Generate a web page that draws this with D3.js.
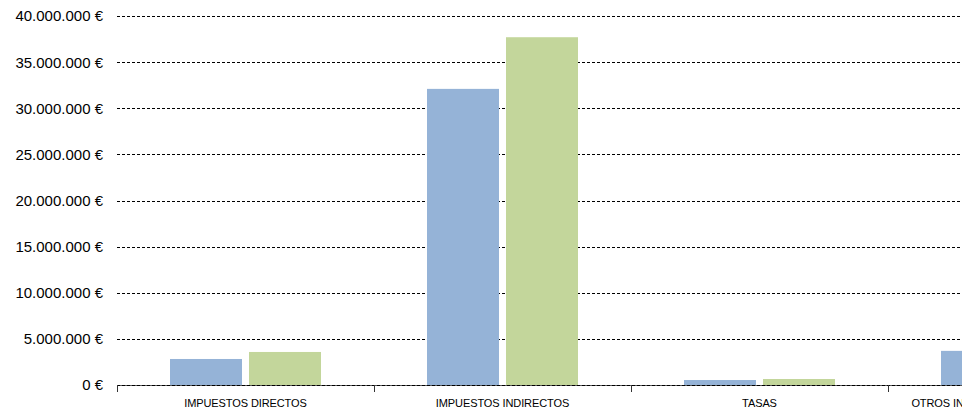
<!DOCTYPE html>
<html>
<head>
<meta charset="utf-8">
<script src="https://cdn.jsdelivr.net/npm/d3@7"></script>
<style>
  html, body { margin: 0; padding: 0; background: #fff; overflow: hidden; }
  svg { display: block; font-family: "Liberation Sans", Arial, sans-serif; }
</style>
</head>
<body>
<svg id="chart" width="962" height="413"></svg>
<script>
const categories = ["IMPUESTOS DIRECTOS", "IMPUESTOS INDIRECTOS", "TASAS", "OTROS INGRESOS Y TRANSFERENCIAS"];
const seriesNames = ["Serie 1", "Serie 2"];
const series1 = [2820000, 32100000, 540000, 3700000];
const series2 = [3580000, 37700000, 650000, 4000000];
const yTicks = [0, 5000000, 10000000, 15000000, 20000000, 25000000, 30000000, 35000000, 40000000];
const colors = ["#95B3D7", "#C3D69B"];

const svg = d3.select("#chart");
const plotLeft = 117, bandW = 257, plotTop = 16, plotBottom = 385;

const x = d3.scaleBand().domain(categories).range([plotLeft, plotLeft + bandW * categories.length]).padding(0);
const xInner = d3.scaleBand().domain(seriesNames).range([0, x.bandwidth()])
  .paddingInner(7 / 79).paddingOuter(0.671);
const y = d3.scaleLinear().domain([0, 40000000]).range([plotBottom, plotTop]);

const fmt = v => d3.format(",")(v).replace(/,/g, ".") + " €";

// gridlines
svg.append("g").selectAll("line").data(yTicks).join("line")
  .attr("x1", plotLeft).attr("x2", 962)
  .attr("y1", d => Math.round(y(d)) + 0.5).attr("y2", d => Math.round(y(d)) + 0.5)
  .attr("stroke", "#000").attr("stroke-width", 1)
  .attr("stroke-dasharray", "3,2");

// y labels
svg.append("g").selectAll("text").data(yTicks).join("text")
  .attr("x", 103).attr("y", d => y(d)).attr("dy", "0.36em")
  .attr("text-anchor", "end").attr("font-size", 15).attr("fill", "#000")
  .text(fmt);

// bars
const data = categories.map((c, i) => ({ c, vals: [series1[i], series2[i]] }));
const g = svg.append("g").selectAll("g").data(data).join("g")
  .attr("transform", d => `translate(${x(d.c)},0)`);
g.selectAll("rect").data(d => d.vals.map((v, j) => ({ v, s: seriesNames[j], j })))
  .join("rect")
  .attr("x", d => xInner(d.s)).attr("width", xInner.bandwidth())
  .attr("y", d => y(d.v)).attr("height", d => y(0) - y(d.v))
  .attr("fill", d => colors[d.j]);

// x axis
const xAxis = svg.append("g");
xAxis.append("line").attr("x1", plotLeft).attr("x2", 962)
  .attr("y1", plotBottom + 0.5).attr("y2", plotBottom + 0.5)
  .attr("stroke", "#555").attr("stroke-width", 1);
xAxis.append("line").attr("x1", plotLeft).attr("x2", 962)
  .attr("y1", plotBottom + 0.5).attr("y2", plotBottom + 0.5)
  .attr("stroke", "#000").attr("stroke-width", 1.2).attr("stroke-dasharray", "3,2");
const bounds = categories.map(c => x(c));
xAxis.selectAll("line.tick").data(bounds).join("line").attr("class", "tick")
  .attr("x1", d => d + 0.5).attr("x2", d => d + 0.5)
  .attr("y1", plotBottom).attr("y2", plotBottom + 7)
  .attr("stroke", "#333").attr("stroke-width", 1);
xAxis.selectAll("text").data(categories).join("text")
  .attr("x", d => x(d) + x.bandwidth() / 2).attr("y", 407)
  .attr("text-anchor", "middle").attr("font-size", 11).attr("fill", "#000")
  .attr("letter-spacing", "-0.1px")
  .text(d => d);
</script>
</body>
</html>
